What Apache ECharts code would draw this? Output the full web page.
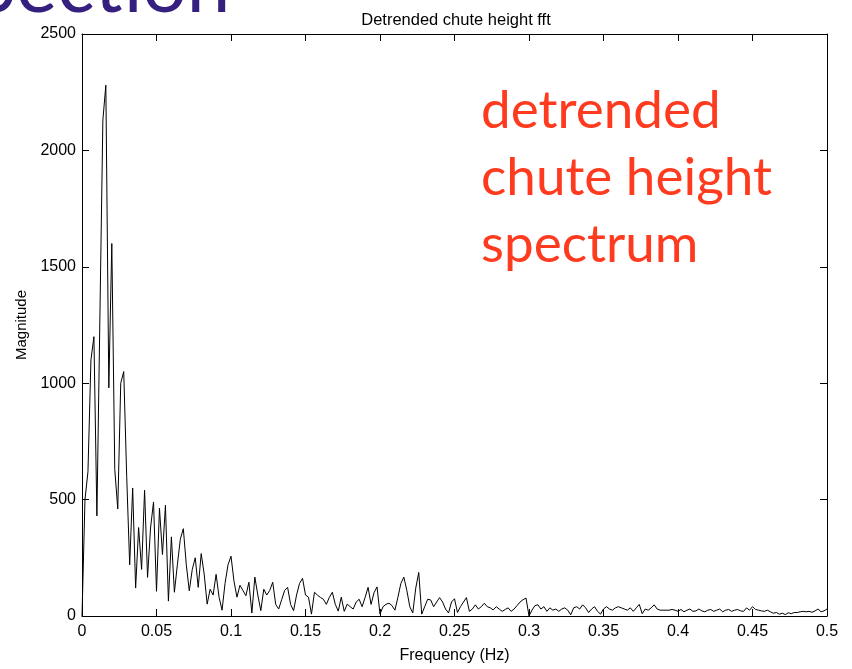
<!DOCTYPE html>
<html>
<head>
<meta charset="utf-8">
<script src="https://cdn.jsdelivr.net/npm/echarts@6/dist/echarts.min.js"></script>
<style>
html,body{margin:0;padding:0;background:#fff;}
#chart{width:852px;height:669px;}
</style>
</head>
<body>
<div id="chart"></div>
<script>
// Frequency grid step (Hz) and magnitudes
var freqStep = 0.002;
var magnitudes = [
  0, 500, 620, 1100, 1200, 430, 1280, 2130, 2280, 980,
  1600, 630, 460, 1000, 1050, 600, 220, 550, 120, 380,
  200, 540, 166, 378, 490, 106, 463, 264, 476, 64,
  340, 102, 220, 330, 375, 220, 108, 200, 250, 123,
  268, 180, 51, 115, 90, 179, 80, 25, 140, 220,
  257, 150, 81, 132, 110, 87, 145, 13, 167, 90,
  23, 115, 90, 110, 145, 50, 30, 70, 110, 123,
  50, 23, 90, 140, 162, 90, 81, 8, 102, 90,
  80, 72, 50, 80, 102, 50, 21, 81, 20, 51,
  40, 30, 60, 72, 40, 80, 123, 50, 100, 125,
  8, 40, 50, 55, 45, 25, 80, 140, 167, 110,
  40, 13, 120, 187, 8, 40, 72, 69, 40, 60,
  79, 60, 30, 13, 60, 74, 15, 40, 60, 79,
  20, 30, 48, 30, 40, 55, 40, 35, 26, 40,
  30, 20, 28, 35, 20, 30, 45, 60, 70, 77,
  0, 25, 45, 48, 30, 40, 20, 35, 25, 30,
  20, 30, 35, 25, 5, 35, 40, 30, 48, 35,
  15, 30, 40, 20, 8, 30, 40, 30, 25, 35,
  40, 35, 30, 25, 35, 20, 35, 50, 10, 30,
  25, 35, 48, 30, 25, 25, 25, 25, 28, 25,
  20, 28, 18, 25, 30, 20, 22, 30, 22, 18,
  25, 28, 20, 25, 30, 18, 25, 28, 20, 25,
  28, 22, 20, 35, 25, 40, 28, 25, 22, 20,
  25, 18, 12, 15, 8, 12, 6, 14, 10, 15,
  15, 18, 20, 18, 20, 16, 22, 30, 18, 22,
  30
];
var xTicks = [0, 0.05, 0.1, 0.15, 0.2, 0.25, 0.3, 0.35, 0.4, 0.45, 0.5];
var yTicks = [0, 500, 1000, 1500, 2000, 2500];
var titleText = 'Detrended chute height fft';
var xName = 'Frequency (Hz)';
var yName = 'Magnitude';
var noteLines = ['detrended', 'chute height', 'spectrum'];
var slideTitle = 'Section';

var seriesData = magnitudes.map(function (v, i) {
  return [Math.round(i * freqStep * 1000) / 1000, v];
});

var chart = echarts.init(document.getElementById('chart'), null, {renderer: 'canvas'});
var fontFam = '"Liberation Sans", Arial, Helvetica, sans-serif';
var tickStyle = {show: true, inside: true, length: 7, lineStyle: {color: '#000', width: 1}};
var lineStyleAxis = {show: true, onZero: false, lineStyle: {color: '#000', width: 1}};

var option = {
  backgroundColor: '#fff',
  animation: false,
  title: {
    text: titleText,
    left: 451, top: 7, textAlign: 'center',
    textStyle: {fontFamily: fontFam, fontSize: 16.5, fontWeight: 'normal', color: '#000'}
  },
  grid: {left: 82, right: 25, top: 34, bottom: 47, containLabel: false},
  xAxis: [{
    type: 'value', min: 0, max: 0.5, interval: 0.05,
    position: 'bottom',
    axisLine: lineStyleAxis, axisTick: tickStyle, splitLine: {show: false},
    axisLabel: {color: '#000', fontFamily: fontFam, fontSize: 16, margin: 8,
      formatter: function (v) { return String(Math.round(v * 100) / 100); }},
    name: xName, nameLocation: 'middle', nameGap: 32,
    nameTextStyle: {color: '#000', fontFamily: fontFam, fontSize: 16}
  }, {
    type: 'value', min: 0, max: 0.5, interval: 0.05,
    position: 'top',
    axisLine: lineStyleAxis, axisTick: tickStyle, splitLine: {show: false},
    axisLabel: {show: false}
  }],
  yAxis: [{
    type: 'value', min: 0, max: 2500, interval: 500,
    position: 'left',
    axisLine: lineStyleAxis, axisTick: tickStyle, splitLine: {show: false},
    axisLabel: {color: '#000', fontFamily: fontFam, fontSize: 16, margin: 6,
      formatter: function (v) { return String(v); }},
    name: yName, nameLocation: 'middle', nameGap: 45, nameRotate: 90,
    nameTextStyle: {color: '#000', fontFamily: fontFam, fontSize: 15}
  }, {
    type: 'value', min: 0, max: 2500, interval: 500,
    position: 'right',
    axisLine: lineStyleAxis, axisTick: tickStyle, splitLine: {show: false},
    axisLabel: {show: false}
  }],
  series: [{
    type: 'line',
    data: seriesData,
    xAxisIndex: 0, yAxisIndex: 0,
    showSymbol: false, symbol: 'none',
    lineStyle: {color: '#000', width: 1},
    clip: true
  }],
  graphic: [{
    type: 'text', left: -26, top: -52,
    style: {text: slideTitle, fill: '#35207f', font: '78px Lato, "Open Sans", sans-serif'}
  }, {
    type: 'text', left: 481, top: 77,
    style: {text: noteLines.join('\n'), fill: '#ff3b1f', font: '53px Lato, "Open Sans", sans-serif', lineHeight: 67}
  }]
};
chart.setOption(option);
</script>
</body>
</html>
